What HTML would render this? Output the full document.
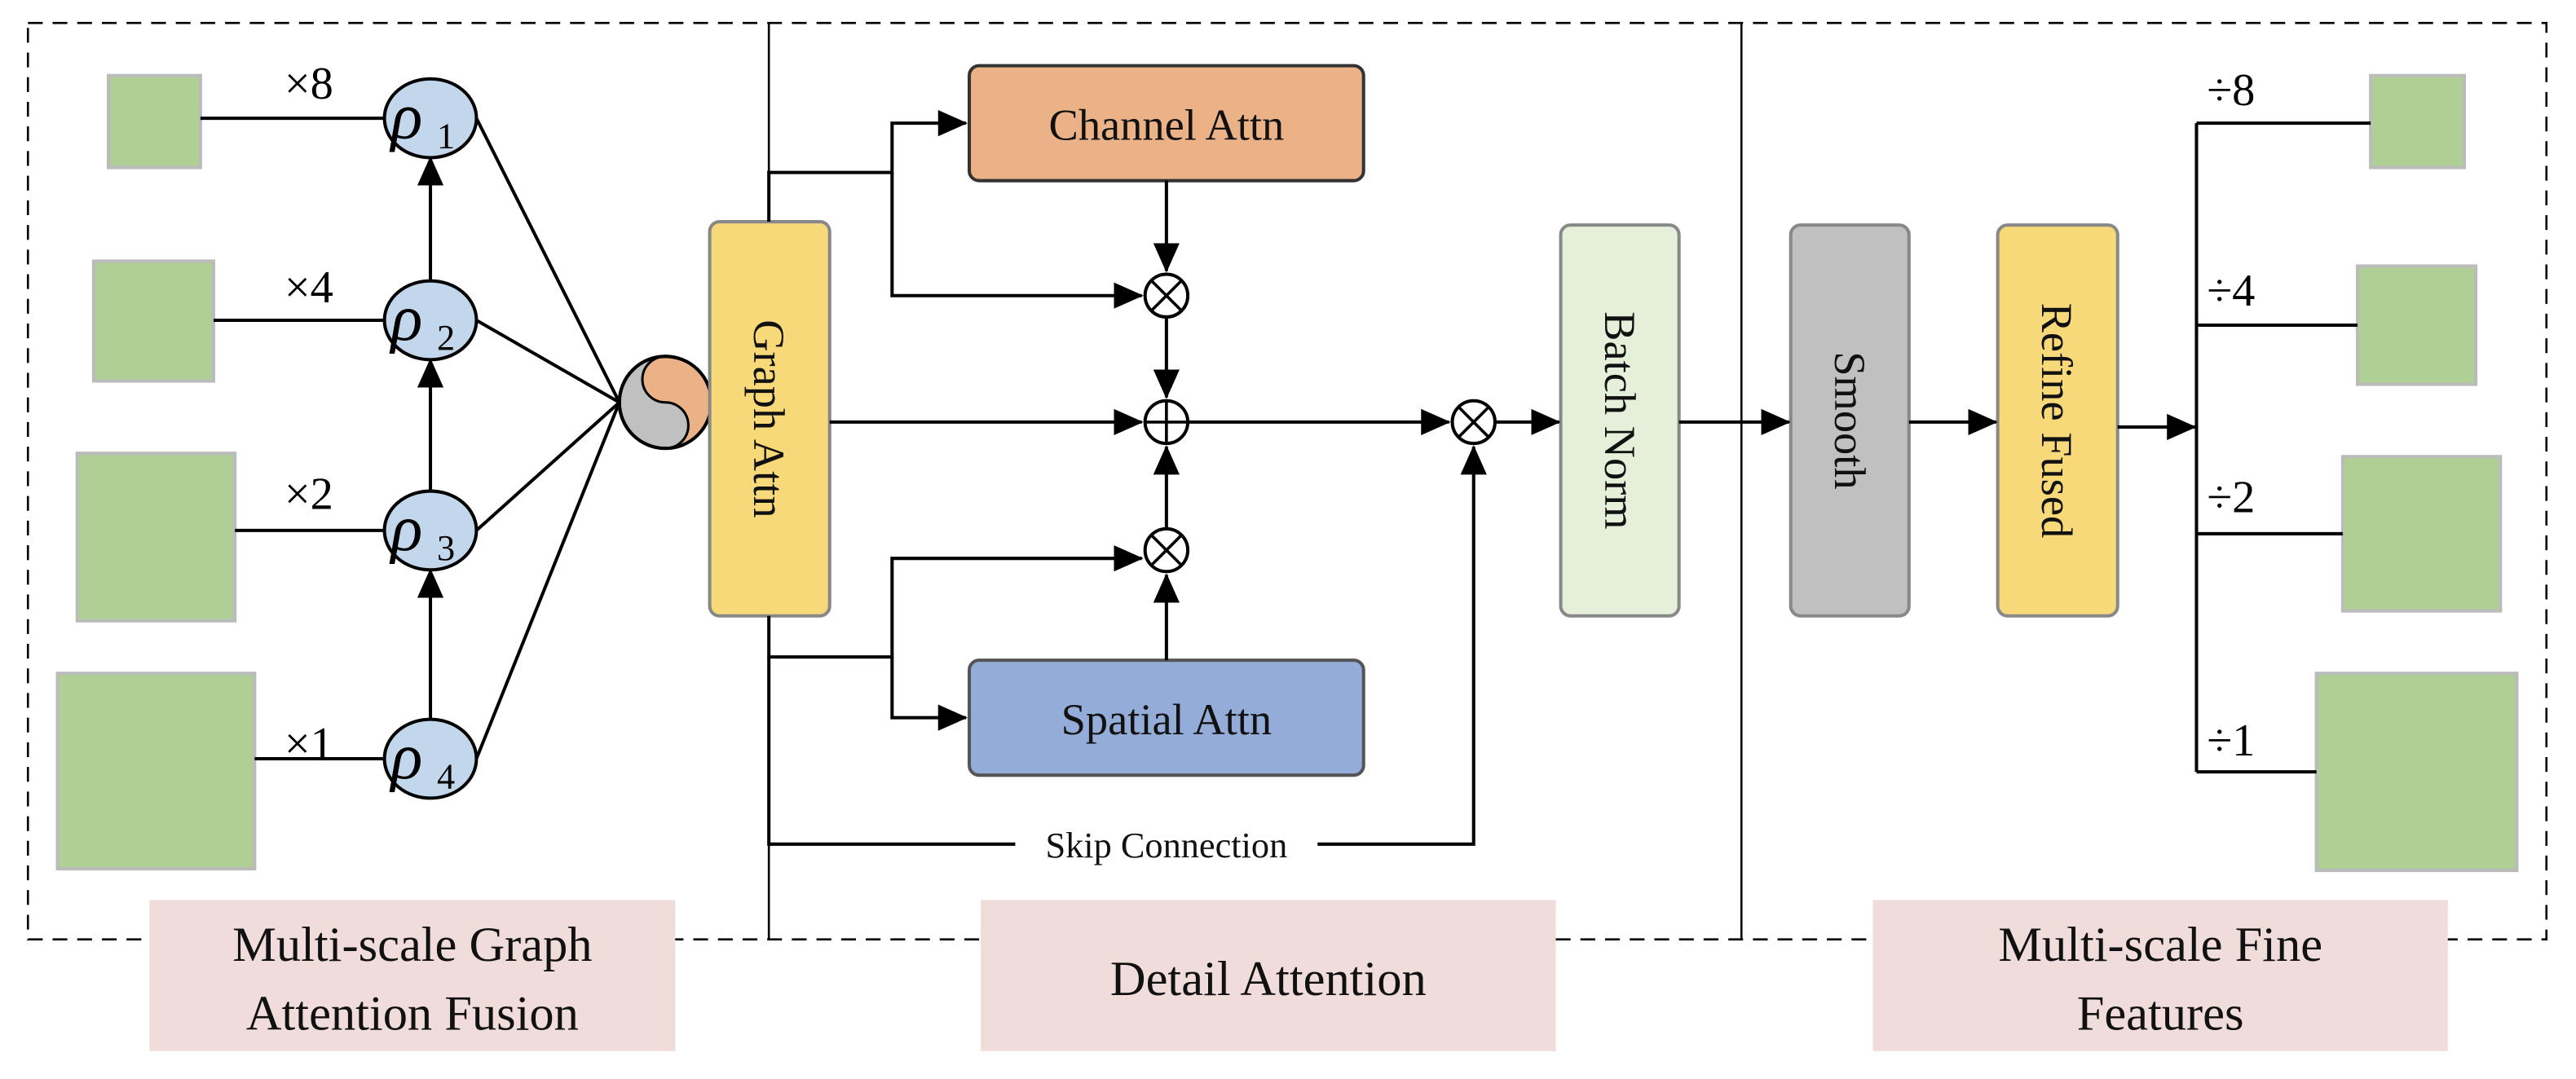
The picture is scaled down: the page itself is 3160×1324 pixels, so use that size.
<!DOCTYPE html>
<html><head><meta charset="utf-8"><style>html,body{margin:0;padding:0;background:#fff}svg{display:block}svg text{font-family:"Liberation Serif","DejaVu Serif",serif}</style></head>
<body>
<svg width="3160" height="1324" viewBox="0 0 1568 657" preserveAspectRatio="none" xmlns="http://www.w3.org/2000/svg">
<defs>
<marker id="b" markerWidth="18" markerHeight="16" refX="17" refY="8" orient="auto" markerUnits="userSpaceOnUse" viewBox="0 0 18 16"><path d="M0,0 L18,8 L0,16z" fill="#000"/></marker>
</defs>
<rect x="17" y="14" width="1533" height="558" fill="none" stroke="#000" stroke-width="1.3" stroke-dasharray="9,6"/>
<line x1="468" y1="14" x2="468" y2="572" stroke="#000" stroke-width="1.3"/>
<line x1="1060" y1="14" x2="1060" y2="572" stroke="#000" stroke-width="1.3"/>
<g fill="#f0dcdb">
<rect x="91" y="548" width="320" height="92"/><rect x="597" y="548" width="350" height="92"/><rect x="1140" y="548" width="350" height="92"/></g>
<g font-size="30" text-anchor="middle" fill="#111">
<text x="251" y="585">Multi-scale Graph</text><text x="251" y="627">Attention Fusion</text>
<text x="772" y="606">Detail Attention</text>
<text x="1315" y="585">Multi-scale Fine</text><text x="1315" y="627">Features</text></g>
<g fill="#b0cf94" stroke="#bbb" stroke-width="2">
<rect x="66" y="46" width="56" height="56"/><rect x="57" y="159" width="73" height="73"/><rect x="47" y="276" width="96" height="102"/><rect x="35" y="410" width="120" height="119"/>
<rect x="1443" y="46" width="57" height="56"/><rect x="1435" y="162" width="72" height="72"/><rect x="1426" y="278" width="96" height="94"/><rect x="1410" y="410" width="122" height="120"/></g>
<g stroke="#000" stroke-width="2" fill="none">
<line x1="122" y1="72" x2="234" y2="72"/><line x1="130" y1="195" x2="234" y2="195"/><line x1="143" y1="323" x2="234" y2="323"/><line x1="155" y1="462" x2="234" y2="462"/>
<line x1="262" y1="171" x2="262" y2="96" marker-end="url(#b)"/><line x1="262" y1="299" x2="262" y2="219" marker-end="url(#b)"/><line x1="262" y1="438" x2="262" y2="347" marker-end="url(#b)"/>
<line x1="290" y1="72" x2="377" y2="245"/><line x1="290" y1="195" x2="377" y2="245"/><line x1="290" y1="323" x2="377" y2="245"/><line x1="290" y1="462" x2="377" y2="245"/>
</g>
<g fill="#c3d7ec" stroke="#000" stroke-width="2">
<ellipse cx="262" cy="72" rx="28" ry="24"/><ellipse cx="262" cy="195" rx="28" ry="24"/><ellipse cx="262" cy="323" rx="28" ry="24"/><ellipse cx="262" cy="462" rx="28" ry="24"/></g>
<g font-style="italic" font-size="40" fill="#000">
<text x="238" y="84">ρ</text><text x="238" y="207">ρ</text><text x="238" y="335">ρ</text><text x="238" y="474">ρ</text></g>
<g font-size="22" fill="#000"><text x="266" y="90">1</text><text x="266" y="213">2</text><text x="266" y="341">3</text><text x="266" y="480">4</text></g>
<g font-size="28" fill="#000" text-anchor="middle">
<text x="188" y="60">×8</text><text x="188" y="184">×4</text><text x="188" y="310">×2</text><text x="188" y="462">×1</text>
<text x="1358" y="64">÷8</text><text x="1358" y="186">÷4</text><text x="1358" y="312">÷2</text><text x="1358" y="460">÷1</text></g>
<circle cx="405" cy="245" r="28" fill="#c0c0c0" stroke="#000" stroke-width="2"/>
<path d="M405,217 A28,28 0 0,1 405,273 A14,14 0 0,0 405,245 A14,14 0 0,1 405,217z" fill="#ebb288" stroke="#000" stroke-width="1.5"/>
<circle cx="405" cy="245" r="28" fill="none" stroke="#000" stroke-width="2"/>
<rect x="432" y="135" width="73" height="240" rx="6" fill="#f8d97a" stroke="#888" stroke-width="2"/>
<rect x="590" y="40" width="240" height="70" rx="6" fill="#ebb288" stroke="#333" stroke-width="2"/>
<rect x="590" y="402" width="240" height="70" rx="6" fill="#94acd8" stroke="#555" stroke-width="2"/>
<rect x="950" y="137" width="72" height="238" rx="6" fill="#e5efda" stroke="#888" stroke-width="2"/>
<rect x="1090" y="137" width="72" height="238" rx="6" fill="#c0c0c0" stroke="#888" stroke-width="2"/>
<rect x="1216" y="137" width="73" height="238" rx="6" fill="#f8d97a" stroke="#888" stroke-width="2"/>
<g font-size="27" fill="#111" text-anchor="middle">
<text x="710" y="85">Channel Attn</text><text x="710" y="447">Spatial Attn</text>
<text transform="translate(459,255) rotate(90)">Graph Attn</text>
<text transform="translate(977,256) rotate(90)">Batch Norm</text>
<text transform="translate(1117,256) rotate(90)">Smooth</text>
<text transform="translate(1243,256) rotate(90)">Refine Fused</text></g>
<g stroke="#000" stroke-width="2" fill="none">
<polyline points="468,135 468,105 543,105 543,75 588,75" marker-end="url(#b)"/>
<polyline points="543,105 543,180 695,180" marker-end="url(#b)"/>
<line x1="710" y1="110" x2="710" y2="165" marker-end="url(#b)"/>
<line x1="710" y1="193" x2="710" y2="242" marker-end="url(#b)"/>
<line x1="505" y1="257" x2="695" y2="257" marker-end="url(#b)"/>
<polyline points="468,375 468,400 543,400 543,340 695,340" marker-end="url(#b)"/>
<polyline points="543,400 543,437 588,437" marker-end="url(#b)"/>
<line x1="710" y1="402" x2="710" y2="350" marker-end="url(#b)"/>
<line x1="710" y1="322" x2="710" y2="272" marker-end="url(#b)"/>
<line x1="723" y1="257" x2="882" y2="257" marker-end="url(#b)"/>
<polyline points="468,400 468,514 897,514 897,272" marker-end="url(#b)"/>
<line x1="910" y1="257" x2="949" y2="257" marker-end="url(#b)"/>
<line x1="1022" y1="257" x2="1089" y2="257" marker-end="url(#b)"/>
<line x1="1162" y1="257" x2="1215" y2="257" marker-end="url(#b)"/>
<line x1="1289" y1="260" x2="1336" y2="260" marker-end="url(#b)"/>
<line x1="1337" y1="75" x2="1337" y2="470"/>
<line x1="1337" y1="75" x2="1443" y2="75"/><line x1="1337" y1="198" x2="1435" y2="198"/><line x1="1337" y1="325" x2="1426" y2="325"/><line x1="1337" y1="470" x2="1410" y2="470"/>
</g>
<rect x="618" y="505" width="184" height="20" fill="#fff"/>
<text x="710" y="522" font-size="22" text-anchor="middle" fill="#111">Skip Connection</text>
<g fill="#fff" stroke="#000" stroke-width="2">
<circle cx="710" cy="180" r="13"/><circle cx="710" cy="257" r="13"/><circle cx="710" cy="335" r="13"/><circle cx="897" cy="257" r="13"/></g>
<g stroke="#000" stroke-width="1.8">
<path d="M701,171 L719,189 M719,171 L701,189"/>
<path d="M697,257 L723,257 M710,244 L710,270"/>
<path d="M701,326 L719,344 M719,326 L701,344"/>
<path d="M888,248 L906,266 M906,248 L888,266"/></g>
</svg>
</body></html>
